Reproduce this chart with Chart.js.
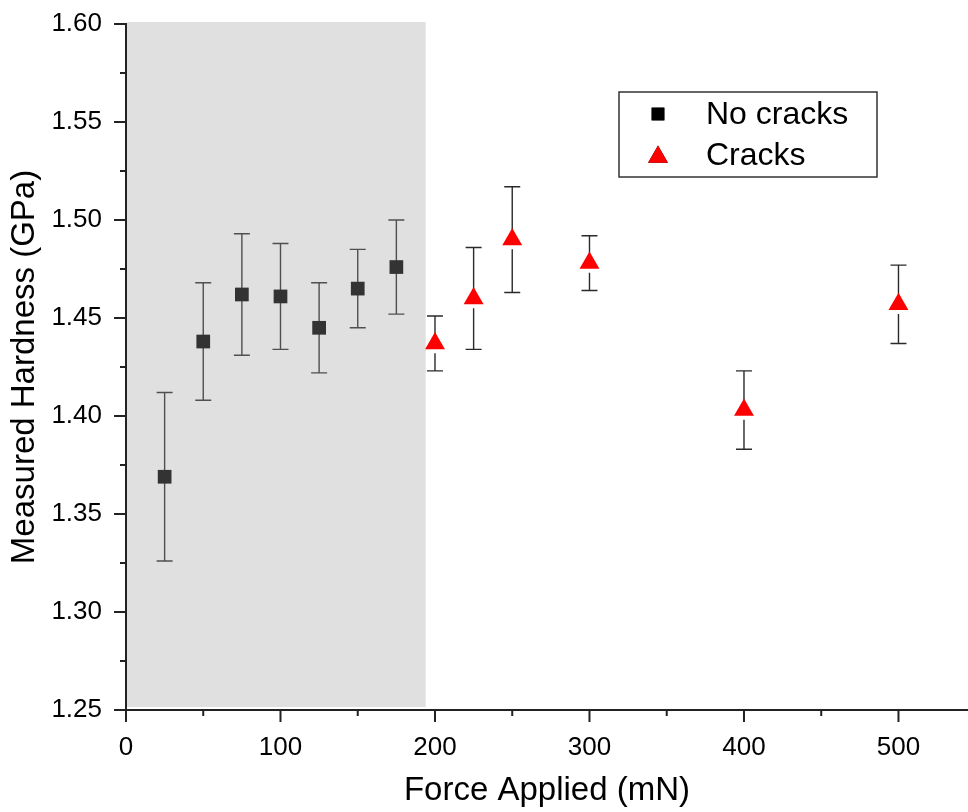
<!DOCTYPE html>
<html lang="en">
<head>
    <meta charset="UTF-8">
    <title>Measured Hardness vs Force Applied</title>
    <script src="https://cdn.jsdelivr.net/npm/chart.js"></script>
    <style>
        html, body { margin: 0; padding: 0; background: #fff; }
        #wrap { width: 968px; height: 812px; }
    </style>
</head>
<body>
    <div id="wrap"><canvas id="grafico" width="968" height="812"></canvas></div>

    <script>
        // Indentation without cracks
        const forcesNoCracks = [25, 50, 75, 100, 125, 150, 175];
        const hardnessNoCracks = [1.369, 1.438, 1.462, 1.461, 1.445, 1.465, 1.476];
        const errorNoCracks = [0.043, 0.030, 0.031, 0.027, 0.023, 0.020, 0.024];

        // Indentation with cracks
        const forcesCracks = [200, 225, 250, 300, 400, 500];
        const hardnessCracks = [1.437, 1.460, 1.490, 1.478, 1.403, 1.457];
        const errorCracks = [0.014, 0.026, 0.027, 0.014, 0.020, 0.020];

        // Axis ticks (major labelled, minor unlabelled)
        const xMajorTicks = [0, 100, 200, 300, 400, 500];
        const xMinorTicks = [50, 150, 250, 350, 450];
        const yMajorTicks = [1.25, 1.30, 1.35, 1.40, 1.45, 1.50, 1.55, 1.60];
        const yMinorTicks = [1.275, 1.325, 1.375, 1.425, 1.475, 1.525, 1.575];

        // Force range without cracks (grey band)
        const noCrackRange = [0, 194];

        const legendLabels = ['No cracks', 'Cracks'];
        const FONT = '"Liberation Sans", Arial, sans-serif';

        // Vertical error bars with caps, drawn under the markers
        const errorBars = {
            id: 'errorBars',
            beforeDatasetsDraw(chart) {
                const ctx = chart.ctx;
                const y = chart.scales.y;
                chart.data.datasets.forEach((ds, i) => {
                    const meta = chart.getDatasetMeta(i);
                    meta.data.forEach((pt, j) => {
                        const v = ds.data[j].y;
                        const e = ds.errors[j];
                        const top = y.getPixelForValue(v + e);
                        const bot = y.getPixelForValue(v - e);
                        const cx = pt.x;
                        ctx.save();
                        ctx.strokeStyle = '#2a2a2a';
                        ctx.lineWidth = 1.4;
                        ctx.beginPath();
                        if (ds.pointStyle === 'triangle') {
                            // small gap under the triangle base
                            ctx.moveTo(cx, top);
                            ctx.lineTo(cx, pt.y);
                            ctx.moveTo(cx, pt.y + ds.pointRadius / 2 + 4);
                            ctx.lineTo(cx, bot);
                        } else {
                            ctx.moveTo(cx, top);
                            ctx.lineTo(cx, bot);
                        }
                        ctx.moveTo(cx - 8, top);
                        ctx.lineTo(cx + 8, top);
                        ctx.moveTo(cx - 8, bot);
                        ctx.lineTo(cx + 8, bot);
                        ctx.stroke();
                        ctx.restore();
                    });
                });
            }
        };

        // Translucent grey band over the no-crack range
        const shade = {
            id: 'shade',
            afterDatasetsDraw(chart) {
                const {ctx, chartArea, scales: {x, y}} = chart;
                const x0 = Math.max(x.getPixelForValue(noCrackRange[0]), chartArea.left + 1);
                const x1 = x.getPixelForValue(noCrackRange[1]);
                const y0 = y.getPixelForValue(y.max) - 2;
                const y1 = y.getPixelForValue(y.min) - 3;
                ctx.save();
                ctx.fillStyle = 'rgba(159,159,159,0.32)';
                ctx.fillRect(x0, y0, x1 - x0, y1 - y0);
                ctx.restore();
            }
        };

        // Outward tick marks, long for major and short for minor
        const axisTicks = {
            id: 'axisTicks',
            afterDraw(chart) {
                const {ctx, chartArea, scales: {x, y}} = chart;
                ctx.save();
                ctx.strokeStyle = '#222';
                ctx.lineWidth = 2;
                ctx.beginPath();
                const xt = (v, len) => {
                    const px = x.getPixelForValue(v);
                    ctx.moveTo(px, chartArea.bottom);
                    ctx.lineTo(px, chartArea.bottom + len);
                };
                const yt = (v, len) => {
                    const py = y.getPixelForValue(v);
                    ctx.moveTo(chartArea.left, py);
                    ctx.lineTo(chartArea.left - len, py);
                };
                xMajorTicks.forEach(v => xt(v, 12));
                xMinorTicks.forEach(v => xt(v, 6));
                yMajorTicks.forEach(v => yt(v, 12));
                yMinorTicks.forEach(v => yt(v, 6));
                ctx.stroke();
                ctx.restore();
            }
        };

        // Framed legend inside the plot
        const legendBox = {
            id: 'legendBox',
            afterDraw(chart) {
                const ctx = chart.ctx;
                const bx = 619, by = 92, bw = 258, bh = 85;
                ctx.save();
                ctx.fillStyle = '#fff';
                ctx.fillRect(bx, by, bw, bh);
                ctx.strokeStyle = '#333';
                ctx.lineWidth = 1.5;
                ctx.strokeRect(bx, by, bw, bh);
                ctx.font = '32px ' + FONT;
                ctx.textBaseline = 'middle';
                ctx.fillStyle = '#000';
                chart.data.datasets.forEach((ds, i) => {
                    const cy = by + 22 + i * 41;
                    Chart.helpers.drawPoint(ctx, {
                        pointStyle: ds.pointStyle,
                        radius: ds.pointStyle === 'triangle' ? 11.5 : 9,
                        rotation: 0,
                        borderWidth: 0
                    }, 658, cy + (ds.pointStyle === 'triangle' ? 2 : 0));
                    ctx.fillStyle = ds.legendColor;
                    ctx.fill();
                    ctx.fillStyle = '#000';
                    ctx.fillText(legendLabels[i], 706, cy + 1);
                });
                ctx.restore();
            }
        };

        const ctx = document.getElementById('grafico').getContext('2d');
        new Chart(ctx, {
            type: 'scatter',
            data: {
                datasets: [
                    {
                        label: legendLabels[0],
                        data: forcesNoCracks.map((f, i) => ({x: f, y: hardnessNoCracks[i]})),
                        errors: errorNoCracks,
                        pointStyle: 'rect',
                        pointRadius: 9.7,
                        backgroundColor: '#000',
                        borderWidth: 0,
                        legendColor: '#000'
                    },
                    {
                        label: legendLabels[1],
                        data: forcesCracks.map((f, i) => ({x: f, y: hardnessCracks[i]})),
                        errors: errorCracks,
                        pointStyle: 'triangle',
                        pointRadius: 11.5,
                        backgroundColor: '#ff0000',
                        borderWidth: 0,
                        legendColor: '#ff0000'
                    }
                ]
            },
            options: {
                responsive: false,
                animation: false,
                events: [],
                layout: {
                    autoPadding: false,
                    padding: { top: 24, right: 0, bottom: 0, left: 0 }
                },
                plugins: {
                    legend: { display: false },
                    tooltip: { enabled: false }
                },
                scales: {
                    x: {
                        type: 'linear',
                        min: 0,
                        max: 545,
                        afterBuildTicks: s => { s.ticks = xMajorTicks.map(v => ({value: v})); },
                        afterFit: s => {
                            s.height = 102;
                            s.paddingLeft = 0;
                            s.paddingRight = 0;
                        },
                        grid: { display: true, drawOnChartArea: false, drawTicks: false },
                        border: { display: true, color: '#222', width: 2 },
                        ticks: {
                            color: '#000',
                            padding: 22,
                            maxRotation: 0,
                            font: { family: FONT, size: 26 }
                        },
                        title: {
                            display: true,
                            text: 'Force Applied (mN)',
                            color: '#000',
                            font: { family: FONT, size: 33 },
                            padding: { top: 0, bottom: 1 }
                        }
                    },
                    y: {
                        type: 'linear',
                        min: 1.25,
                        max: 1.60,
                        afterBuildTicks: s => { s.ticks = yMajorTicks.map(v => ({value: v})); },
                        afterFit: s => {
                            s.width = 126;
                            s.paddingTop = 0;
                            s.paddingBottom = 0;
                        },
                        grid: { display: true, drawOnChartArea: false, drawTicks: false },
                        border: { display: true, color: '#222', width: 2 },
                        ticks: {
                            color: '#000',
                            padding: 24,
                            font: { family: FONT, size: 26 },
                            callback: v => v.toFixed(2)
                        },
                        title: {
                            display: true,
                            text: 'Measured Hardness (GPa)',
                            color: '#000',
                            font: { family: FONT, size: 33 },
                            padding: { top: 5, bottom: 0 }
                        }
                    }
                }
            },
            plugins: [errorBars, shade, axisTicks, legendBox]
        });
    </script>
</body>
</html>
